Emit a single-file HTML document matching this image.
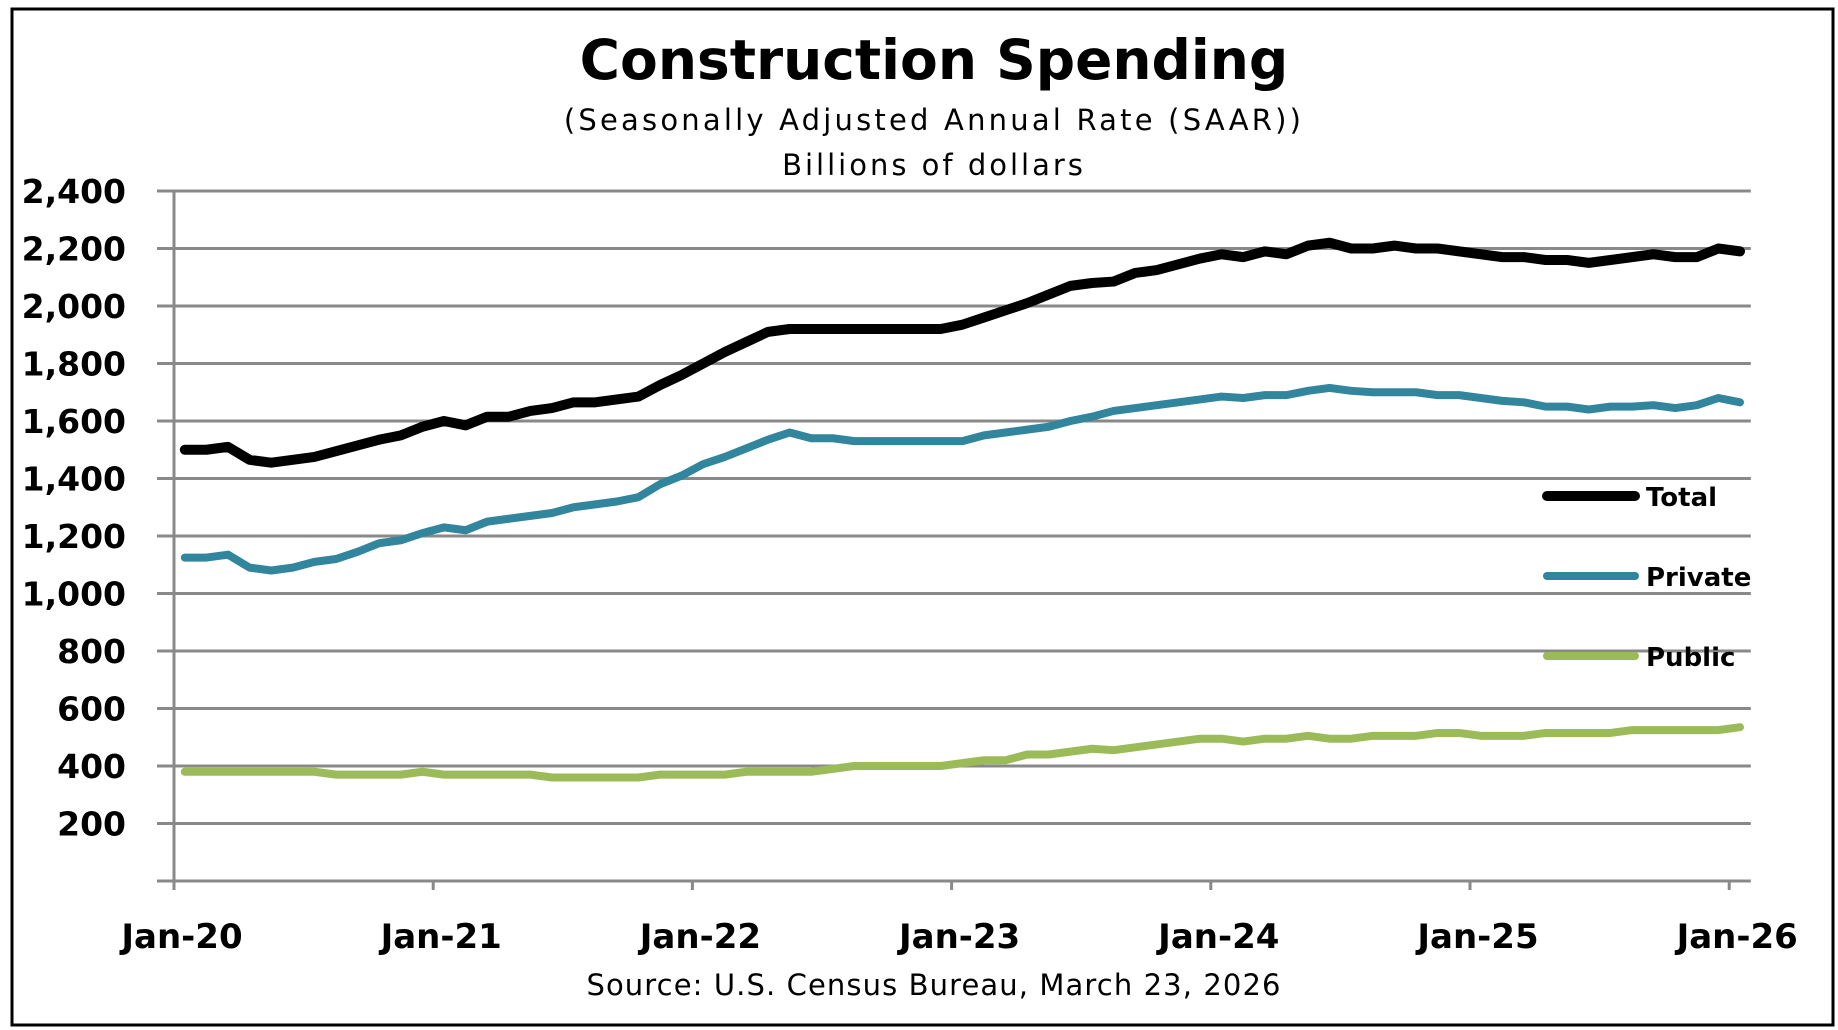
<!DOCTYPE html>
<html><head><meta charset="utf-8"><style>
html,body{margin:0;padding:0;background:#fff}
svg{display:block}
text{font-family:"DejaVu Sans","Liberation Sans",sans-serif}
</style></head><body>
<svg id="chart" width="1838" height="1030" viewBox="0 0 1838 1030">
<rect x="12" y="9" width="1821" height="1016" fill="#fff" stroke="#000" stroke-width="3"/>
<text x="934" y="79" text-anchor="middle" font-size="55" font-weight="bold">Construction  Spending</text>
<text x="934" y="130" text-anchor="middle" font-size="29" letter-spacing="3.2">(Seasonally Adjusted Annual Rate (SAAR))</text>
<text x="934" y="175" text-anchor="middle" font-size="29" letter-spacing="3">Billions of dollars</text>
<text x="934" y="995" text-anchor="middle" font-size="29" letter-spacing="1.1">Source: U.S. Census Bureau, March 23, 2026</text>
<g id="grid"></g><g id="axes"></g><g id="series"></g><g id="legend"></g>
</svg>
<script>
const xLabels=["Jan-20","Jan-21","Jan-22","Jan-23","Jan-24","Jan-25","Jan-26"];
const yTicks=[200,400,600,800,1000,1200,1400,1600,1800,2000,2200,2400];
const seriesNames=["Total","Private","Public"];
const totalVals=[1500,1500,1510,1465,1455,1465,1475,1495,1515,1535,1550,1580,
1600,1585,1615,1615,1635,1645,1665,1665,1675,1685,1725,1760,
1800,1840,1875,1910,1920,1920,1920,1920,1920,1920,1920,1920,
1935,1960,1985,2010,2040,2070,2080,2085,2115,2125,2145,2165,
2180,2170,2190,2180,2210,2220,2200,2200,2210,2200,2200,2190,
2180,2170,2170,2160,2160,2150,2160,2170,2180,2170,2170,2200,
2190];
const privateVals=[1125,1125,1135,1090,1080,1090,1110,1120,1145,1175,1185,1210,
1230,1220,1250,1260,1270,1280,1300,1310,1320,1335,1380,1410,
1450,1475,1505,1535,1560,1540,1540,1530,1530,1530,1530,1530,
1530,1550,1560,1570,1580,1600,1615,1635,1645,1655,1665,1675,
1685,1680,1690,1690,1705,1715,1705,1700,1700,1700,1690,1690,
1680,1670,1665,1650,1650,1640,1650,1650,1655,1645,1655,1680,
1665];
const publicVals=[380,380,380,380,380,380,380,370,370,370,370,380,
370,370,370,370,370,360,360,360,360,360,370,370,
370,370,380,380,380,380,390,400,400,400,400,400,
410,420,420,440,440,450,460,455,465,475,485,495,
495,485,495,495,505,495,495,505,505,505,515,515,
505,505,505,515,515,515,515,525,525,525,525,525,
535];
</script>
<script>
const NS="http://www.w3.org/2000/svg";
const X0=174,CW=21.6,NC=73,Y0=881,YPX=57.5/200;
const xs=i=>X0+(i+0.5)*CW, ys=v=>Y0-v*YPX;
function mk(tag,attrs,parent,txt){const e=document.createElementNS(NS,tag);for(const k in attrs)e.setAttribute(k,attrs[k]);if(txt!=null)e.textContent=txt;parent.appendChild(e);return e;}
const grid=document.getElementById('grid'),axes=document.getElementById('axes'),ser=document.getElementById('series'),leg=document.getElementById('legend');
const R=X0+NC*CW;
yTicks.forEach(v=>{
 const l=mk('line',{x1:157,x2:R,y1:ys(v),y2:ys(v),stroke:'#898989','stroke-width':3},grid);
 
 
 const t=mk('text',{x:126,y:ys(v)+12,'text-anchor':'end','font-size':33,'font-weight':'bold'},axes,v.toLocaleString('en-US'));
 
 
});
const ax=mk('line',{x1:157,x2:R,y1:Y0,y2:Y0,stroke:'#898989','stroke-width':3},axes);


const ay=mk('line',{x1:X0,x2:X0,y1:ys(2400),y2:Y0+9,stroke:'#898989','stroke-width':3},axes);


xLabels.forEach((s,k)=>{
 const x=X0+k*12*CW;
 const tk=mk('line',{x1:x,x2:x,y1:Y0,y2:Y0+9,stroke:'#898989','stroke-width':3},axes);
 
 
 const t=mk('text',{x:x+8,y:948,'text-anchor':'middle','font-size':34,'font-weight':'bold'},axes,s);
 
 
});
const defs=[[totalVals,'#000',10,'total'],[privateVals,'#31859C',8,'private'],[publicVals,'#9BBB59',8,'public']];
defs.slice().reverse().forEach(([vals,c,w,n])=>{
 const p=mk('polyline',{points:vals.map((v,i)=>xs(i)+','+ys(v)).join(' '),fill:'none',stroke:c,'stroke-width':w,'stroke-linejoin':'round','stroke-linecap':'round'},ser);
 
 
});
defs.forEach(([vals,c,w,n],k)=>{
 const y=496+k*80;
 const l=mk('line',{x1:1547,x2:1635,y1:y,y2:y,stroke:c,'stroke-width':w,'stroke-linecap':'round'},leg);
 
 
 const t=mk('text',{x:1646,y:y+10,'font-size':26,'font-weight':'bold'},leg,seriesNames[k]);
 
 
});
</script>
</body></html>
